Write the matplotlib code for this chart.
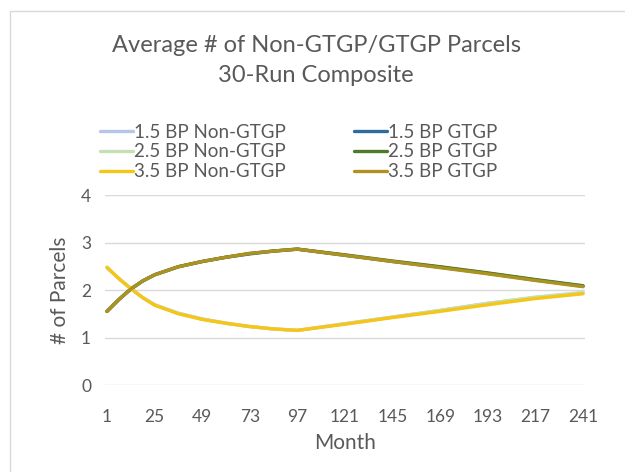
import matplotlib
matplotlib.use("Agg")
import matplotlib.pyplot as plt
from matplotlib.patches import Rectangle

plt.rcParams['font.family'] = ['Lato', 'DejaVu Sans']

months = [1, 7, 13, 19, 25, 37, 49, 61, 73, 85, 97, 121, 145, 169, 193, 217, 241]

non_15 = [2.47, 2.24, 2.03, 1.84, 1.69, 1.51, 1.39, 1.30, 1.23, 1.18, 1.15, 1.29, 1.43, 1.57, 1.72, 1.84, 1.94]
non_25 = [2.47, 2.24, 2.03, 1.84, 1.69, 1.51, 1.39, 1.30, 1.23, 1.18, 1.15, 1.29, 1.43, 1.57, 1.72, 1.85, 1.95]
non_35 = [2.48, 2.24, 2.03, 1.84, 1.68, 1.50, 1.38, 1.30, 1.23, 1.18, 1.15, 1.28, 1.42, 1.55, 1.69, 1.82, 1.92]

gt_15 = [1.55, 1.80, 2.02, 2.19, 2.32, 2.49, 2.60, 2.69, 2.76, 2.82, 2.86, 2.73, 2.60, 2.48, 2.35, 2.21, 2.08]
gt_25 = [1.55, 1.80, 2.02, 2.19, 2.32, 2.49, 2.60, 2.69, 2.77, 2.82, 2.86, 2.74, 2.61, 2.49, 2.36, 2.22, 2.09]
gt_35 = [1.55, 1.80, 2.02, 2.19, 2.32, 2.49, 2.60, 2.69, 2.77, 2.82, 2.86, 2.73, 2.60, 2.47, 2.34, 2.20, 2.07]

labels = ["1.5 BP Non-GTGP", "1.5 BP GTGP", "2.5 BP Non-GTGP",
          "2.5 BP GTGP", "3.5 BP Non-GTGP", "3.5 BP GTGP"]
series = [non_15, gt_15, non_25, gt_25, non_35, gt_35]
colors = ["#b4c7e7", "#2e6b9e", "#c5e0b4", "#4f7a2c", "#f5c518", "#ad9220"]

xticks = [1, 25, 49, 73, 97, 121, 145, 169, 193, 217, 241]
yticks = [0, 1, 2, 3, 4]

fig = plt.figure(figsize=(6.25, 4.72), dpi=100)
fig.patch.set_facecolor("white")
fig.patches.append(Rectangle((10 / 625, -0.1), 1.2, 1 - 11 / 472 + 0.1,
                             transform=fig.transFigure, fill=False,
                             edgecolor="#d9d9d9", linewidth=1.0))

ax = fig.add_axes([105 / 625, 1 - 385 / 472, 480 / 625, 190 / 472])
handles = {}
for lab, vals, c in zip(labels, series, colors):
    h, = ax.plot(months, vals, color=c, lw=2.4, solid_capstyle="round", label=lab)
    handles[lab] = h

ax.set_xlim(0, 242)
ax.set_ylim(0, 4)
ax.set_xticks(xticks)
ax.set_yticks(yticks)
ax.grid(axis="y", color="#d9d9d9", lw=1)
ax.set_axisbelow(True)
for s in ax.spines.values():
    s.set_visible(False)
ax.tick_params(length=0, labelsize=12.5, colors="#595959")
ax.tick_params(axis="x", pad=17)
ax.tick_params(axis="y", pad=10)
ax.set_xlabel("Month", fontsize=15, color="#595959", labelpad=6)
ax.set_ylabel("# of Parcels", fontsize=15, color="#595959", labelpad=8)

fig.text(0.506, 1 - 45 / 472, "Average # of Non-GTGP/GTGP Parcels", ha="center", va="center",
         fontsize=17, color="#595959")
fig.text(0.506, 1 - 76 / 472, "30-Run Composite", ha="center", va="center",
         fontsize=17, color="#595959")

order = ["1.5 BP Non-GTGP", "2.5 BP Non-GTGP", "3.5 BP Non-GTGP",
         "1.5 BP GTGP", "2.5 BP GTGP", "3.5 BP GTGP"]
leg = fig.legend([handles[k] for k in order], order, ncol=2, frameon=False,
                 loc="upper left", bbox_to_anchor=(92 / 625, 1 - 116 / 472),
                 fontsize=13.5, handlelength=1.8, handletextpad=0.05,
                 columnspacing=3.6, labelspacing=0.15, borderaxespad=0)
for t in leg.get_texts():
    t.set_color("#595959")

fig.savefig("out.png", dpi=100)
